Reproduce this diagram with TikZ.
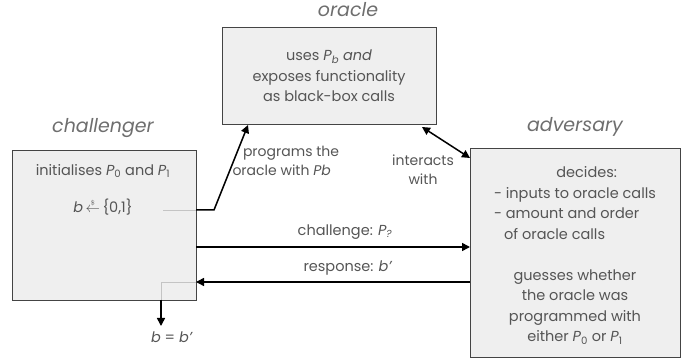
\documentclass[tikz,border=0pt]{standalone}
\usepackage{fontspec}
\setmainfont{Poppins}
\usetikzlibrary{arrows.meta}
\definecolor{txt}{HTML}{555555}
\definecolor{boxfill}{HTML}{EFEFEF}
\definecolor{boxline}{HTML}{444444}
\definecolor{thin}{HTML}{C4C4C4}
\newcommand\Pv[1]{\textit{P}\textsubscript{#1}}
\begin{document}
\begin{tikzpicture}[x=1pt,y=-1pt,
  every node/.style={text=txt,font=\fontsize{14.5}{20.5}\selectfont},
  actor/.style={draw=boxline,fill=boxfill,line width=0.8pt,inner sep=0pt},
  title/.style={font=\fontsize{19}{22}\selectfont\itshape,text=txt!85},
  arr/.style={line width=1.5pt,-{Triangle[length=8pt,width=8pt]}},
  darr/.style={line width=1.5pt,{Triangle[length=8pt,width=8pt]}-{Triangle[length=8pt,width=8pt]}},
  lite/.style={draw=thin,line width=0.8pt}]
\useasboundingbox (0,0) rectangle (697,363);
% boxes
\node[actor,minimum width=184pt,minimum height=150pt,anchor=north west] (ch) at (12,150) {};
\node[actor,minimum width=214pt,minimum height=97pt,anchor=north west] (or) at (222,27) {};
\node[actor,minimum width=210pt,minimum height=209pt,anchor=north west] (ad) at (470,148) {};
% titles
\node[title] (tch) at (103,128) {challenger};
\node[title] (tor) at (348,10) {oracle};
\node[title] (tad) at (575,127) {adversary};
% contents
\node[align=center] (orc) at (329,76) {uses \Pv{\itshape b} \textit{and}\\exposes functionality\\as black-box calls};
\node (init) at (103,171) {initialises \Pv{0} and \Pv{1}};
\node[inner sep=1pt] (samp) at (103,207) {\textit{b}\,$\stackrel{\scriptscriptstyle\$}{\leftarrow}$\,\{0,1\}};
\node[align=left] (dec) at (575,203) {\hspace*{4.3em}decides:\\- inputs to oracle calls\\- amount and order\\\hspace*{0.7em}of oracle calls};
\node[align=center] (gue) at (575,307) {guesses whether\\the oracle was\\programmed with\\either \Pv{0} or \Pv{1}};
% connector helpers
\coordinate (p0) at (163,210);
\coordinate (p1) at (196,210);
\coordinate (p2) at (214,210);
\coordinate (p3) at (248,125);
\coordinate (i0) at (422,127);
\coordinate (i1) at (470,158);
\coordinate (c0) at (196,247);
\coordinate (c1) at (470,247);
\coordinate (r0) at (470,282);
\coordinate (r1) at (196,282);
\coordinate (b0) at (161,282);
\coordinate (b1) at (161,300);
\coordinate (b2) at (161,326);
% connectors
\draw[lite] (p0) -- (p1);
\draw[arr] (p1) -- (p2) -- (p3);
\draw[darr] (i0) -- (i1);
\draw[arr] (c0) -- (c1);
\draw[arr] (r0) -- (r1);
\draw[lite] (r1) -- (b0) -- (b1);
\draw[arr] (b1) -- (b2);
% labels
\node[align=left,anchor=west,font=\fontsize{14}{19}\selectfont] (lprog) at (229,161) {\hspace*{0.75em}programs the\\oracle with \textit{Pb}};
\node[align=center,font=\fontsize{14}{19}\selectfont] (lint) at (423,170) {interacts\\with};
\node (lch) at (345,232) {challenge: \Pv{\itshape ?}};
\node (lre) at (348,268) {response: \textit{b'}};
\node (lbb) at (172,337) {\textit{b} = \textit{b'}};
\end{tikzpicture}
\end{document}
